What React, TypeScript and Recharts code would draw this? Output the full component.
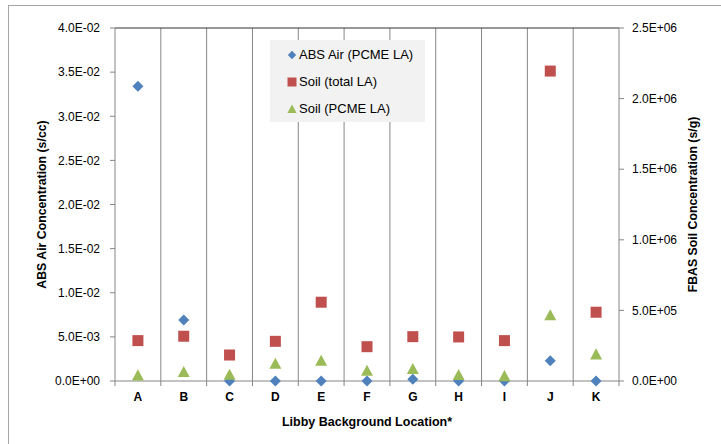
import {
  ScatterChart, Scatter, XAxis, YAxis, ReferenceLine, Legend, Label,
} from 'recharts'

const categories = ['A', 'B', 'C', 'D', 'E', 'F', 'G', 'H', 'I', 'J', 'K']
const absAir = [0.0334, 0.0069, 0, 0, 0, 0, 0.0002, 0, 0, 0.0023, 0]
const soilTotal = [286000, 317000, 184000, 281000, 558000, 243000, 314000, 312000, 286000, 2195000, 487000]
const soilPcme = [40000, 64000, 45000, 123000, 144000, 73000, 85000, 43000, 35000, 466000, 189000]
const seriesNames = ['ABS Air (PCME LA)', 'Soil (total LA)', 'Soil (PCME LA)']

const leftTicks = [0, 0.005, 0.01, 0.015, 0.02, 0.025, 0.03, 0.035, 0.04]
const rightTicks = [0, 500000, 1000000, 1500000, 2000000, 2500000]

const BLUE = '#4F81BD'
const RED = '#C0504D'
const GREEN = '#9BBB59'
const AXIS = '#868686'

// category i sits in the middle of slot [i, i+1]
const toPoints = (vals: number[]) => vals.map((v, i) => ({ x: i + 0.5, y: v, cat: categories[i] }))
const airData = toPoints(absAir)
const totalData = toPoints(soilTotal)
const pcmeData = toPoints(soilPcme)

const xTicks: number[] = []
for (let i = 0; i <= categories.length * 2; i++) xTicks.push(i / 2)

function sci(v: number) {
  if (v === 0) return '0.0E+00'
  const [m, e] = v.toExponential(1).split('e')
  const n = parseInt(e, 10)
  return `${m}E${n < 0 ? '-' : '+'}${String(Math.abs(n)).padStart(2, '0')}`
}

const Diamond = ({ cx, cy, r = 5.5, fill = BLUE }: any) => (
  <polygon points={`${cx},${cy - r} ${cx + r},${cy} ${cx},${cy + r} ${cx - r},${cy}`} fill={fill} />
)
const Square = ({ cx, cy, r = 5.5, fill = RED }: any) => (
  <rect x={cx - r} y={cy - r} width={r * 2} height={r * 2} fill={fill} />
)
const Triangle = ({ cx, cy, r = 6, fill = GREEN }: any) => (
  <polygon points={`${cx},${cy - r} ${cx + r},${cy + r * 0.85} ${cx - r},${cy + r * 0.85}`} fill={fill} />
)

function XTick(props: any) {
  const { x, y, payload } = props
  const v = payload.value
  if (Number.isInteger(v)) {
    return <line x1={x} x2={x} y1={y} y2={y + 5} stroke={AXIS} />
  }
  const idx = Math.floor(v)
  return (
    <text x={x} y={y + 20} textAnchor="middle" fontSize={12} fontWeight="bold" fill="#000">
      {categories[idx]}
    </text>
  )
}

function LegendBox() {
  const icons: Record<string, any> = {
    'ABS Air (PCME LA)': <Diamond cx={5} cy={5} r={4.2} />,
    'Soil (total LA)': <Square cx={5} cy={5} r={4.5} />,
    'Soil (PCME LA)': <Triangle cx={5} cy={5} r={4.6} />,
  }
  return (
    <div style={{ background: '#F2F2F2', width: 155, height: 82, paddingTop: 1, boxSizing: 'border-box' }}>
      {seriesNames.map(name => (
        <div key={name} style={{ display: 'flex', alignItems: 'center', height: 27, paddingLeft: 17 }}>
          <svg width={10} height={10} style={{ marginRight: 2 }}>{icons[name]}</svg>
          <span style={{ fontSize: 13, color: '#000' }}>{name}</span>
        </div>
      ))}
    </div>
  )
}

export default function App() {
  return (
    <div style={{ position: 'absolute', left: 0, top: 0, width: 721, height: 444, background: '#fff', fontFamily: '"Liberation Sans", Arial, sans-serif' }}>
      <div style={{ position: 'absolute', left: 8, top: 5, width: 713, height: 439, borderLeft: '1px solid #A6A6A6', borderTop: '1px solid #A6A6A6' }} />
      <ScatterChart width={721} height={444} margin={{ top: 28, right: 0, bottom: 0, left: 35 }}>
        <XAxis
          type="number" dataKey="x" domain={[0, 11]} ticks={xTicks} interval={0}
          height={63} tickLine={false} tickSize={0} tickMargin={0}
          axisLine={{ stroke: AXIS }} tick={<XTick />}
        >
          <Label content={({ viewBox }: any) => (
            <text x={viewBox.x + viewBox.width / 2} y={viewBox.y + 45} textAnchor="middle" fontSize={12.5} fontWeight="bold" fill="#000">
              Libby Background Location*
            </text>
          )} />
        </XAxis>
        <YAxis
          yAxisId="left" type="number" dataKey="y" domain={[0, 0.04]} ticks={leftTicks} interval={0}
          width={80} tickSize={5} tickMargin={10} tickFormatter={sci}
          axisLine={{ stroke: AXIS }} tickLine={{ stroke: AXIS }} tick={{ fill: '#000', fontSize: 12 }}
        >
          <Label content={({ viewBox }: any) => {
            const cx = viewBox.x + 8
            const cy = viewBox.y + viewBox.height / 2
            return (
              <text x={cx} y={cy} transform={`rotate(-90 ${cx} ${cy})`} textAnchor="middle" dominantBaseline="middle" fontSize={12.3} fontWeight="bold" fill="#000">
                ABS Air Concentration (s/cc)
              </text>
            )
          }} />
        </YAxis>
        <YAxis
          yAxisId="right" orientation="right" type="number" dataKey="y" domain={[0, 2500000]} ticks={rightTicks} interval={0}
          width={102} tickSize={5} tickMargin={8} tickFormatter={sci}
          axisLine={{ stroke: AXIS }} tickLine={{ stroke: AXIS }} tick={{ fill: '#000', fontSize: 12 }}
        >
          <Label content={({ viewBox }: any) => {
            const cx = viewBox.x + 75
            const cy = viewBox.y + viewBox.height / 2
            return (
              <text x={cx} y={cy} transform={`rotate(-90 ${cx} ${cy})`} textAnchor="middle" dominantBaseline="middle" fontSize={12.3} fontWeight="bold" fill="#000">
                FBAS Soil Concentration (s/g)
              </text>
            )
          }} />
        </YAxis>
        {[1, 2, 3, 4, 5, 6, 7, 8, 9, 10].map(i => (
          <ReferenceLine key={i} x={i} yAxisId="left" stroke={AXIS} strokeWidth={1} />
        ))}
        <ReferenceLine y={0.04} yAxisId="left" stroke="#333" strokeWidth={1} />
        <Legend
          layout="vertical" align="center" verticalAlign="middle"
          wrapperStyle={{ left: 270, top: 40, width: 155, height: 82 }}
          content={<LegendBox />}
        />
        <Scatter name={seriesNames[0]} data={airData} yAxisId="left" fill={BLUE} shape={<Diamond />} isAnimationActive={false} />
        <Scatter name={seriesNames[1]} data={totalData} yAxisId="right" fill={RED} shape={<Square />} isAnimationActive={false} />
        <Scatter name={seriesNames[2]} data={pcmeData} yAxisId="right" fill={GREEN} shape={<Triangle />} isAnimationActive={false} />
      </ScatterChart>
    </div>
  )
}
